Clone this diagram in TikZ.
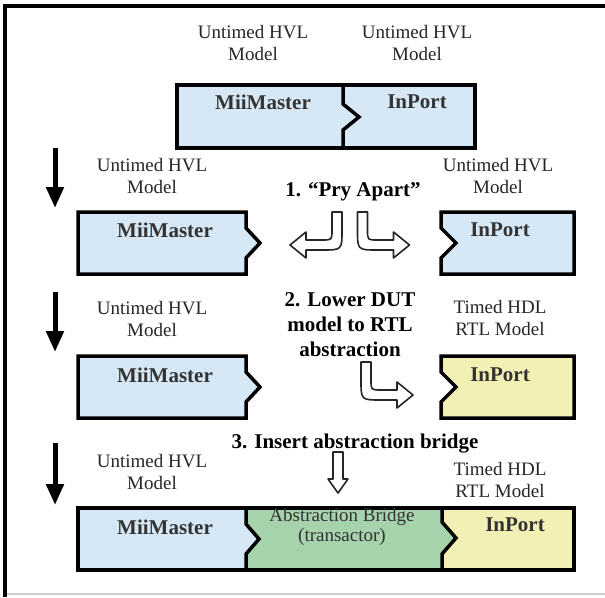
\documentclass[tikz,border=0pt]{standalone}
\usepackage{fontspec}
\setmainfont{Liberation Serif}
\usetikzlibrary{arrows.meta,positioning}
\definecolor{hvlblue}{RGB}{214,232,245}
\definecolor{hdlyellow}{RGB}{243,240,182}
\definecolor{bridgegreen}{RGB}{166,210,172}
\definecolor{framegray}{RGB}{205,205,205}
\tikzset{%
  kind/.style={align=center, font=\fontsize{19}{22}\selectfont, text=black!85},% model kind above a block
  steptext/.style={align=center, font=\bfseries\fontsize{21}{25}\selectfont},% step caption
  boxtext/.style={align=center, font=\bfseries\fontsize{21}{20}\selectfont, text=black!80},% block name
  blockline/.style={line width=3.5pt, line join=miter},% block outline
  stepdown/.style={line width=5pt, -{Triangle[width=17pt,length=21pt]}},% left step arrows
  hollow/.style={draw=black!85, fill=white, line width=1.6pt, line join=round}% outlined arrows
}
% left block with a tab on its right side, #1 = top
\newcommand*{\leftblock}[2]{
  \draw[blockline, fill=#2] (78,#1) -- (246,#1) -- (246,#1+16) -- (260,#1+31)
    -- (246,#1+46) -- (246,#1+62) -- (78,#1+62) -- cycle;}
% right block with a slot on its left side, #1 = top
\newcommand*{\rightblock}[2]{
  \draw[blockline, fill=#2] (441,#1) -- (574,#1) -- (574,#1+62) -- (441,#1+62)
    -- (441,#1+46) -- (456,#1+31) -- (441,#1+16) -- cycle;}
% bent outlined arrow, #3 = 1 to the right, -1 to the left
\newcommand*{\bentarrow}[3]{
  \draw[hollow, shift={(#1,#2)}, xscale=#3] (-5,0) -- (-5,18) .. controls (-5,38) .. (15,38)
    -- (31,38) -- (31,46) -- (47,33) -- (31,20) -- (31,28) -- (15,28)
    .. controls (5,28) .. (5,18) -- (5,0) -- cycle;}

\begin{document}
\begin{tikzpicture}[x=1pt, y=-1pt]
\useasboundingbox (0,0) rectangle (605,597);
\fill[white] (0,0) rectangle (605,597);
\draw[framegray, line width=1.5pt] (4,594) -- (605,594);
\draw[line width=4pt] (605,6) -- (4.5,6) -- (4.5,597);

% starting point
\fill[hvlblue] (177,85) rectangle (475,148);
\draw[blockline] (343,85) -- (343,104) -- (359,117) -- (343,130) -- (343,148);
\draw[blockline] (177,85) rectangle (475,148);
\node[kind] (topkindl) at (253,43) {Untimed HVL\\Model};
\node[kind] (topkindr) at (417,43) {Untimed HVL\\Model};
\node[boxtext] (topmii) at (263,102) {MiiMaster};
\node[boxtext] (topin) at (417,102) {InPort};

% step 1
\coordinate (down1a) at (55,148);
\coordinate (down1b) at (55,208);
\draw[stepdown] (down1a) -- (down1b);
\node[kind] (kind1l) at (152,176) {Untimed HVL\\Model};
\node[kind] (kind1r) at (498,176) {Untimed HVL\\Model};
\node[steptext] (pry) at (353,192) {1. “Pry Apart”};
\leftblock{212}{hvlblue}
\rightblock{212}{hvlblue}
\node[boxtext] (mii1) at (165,230) {MiiMaster};
\node[boxtext] (in1) at (500,230) {InPort};
\bentarrow{337}{212}{-1}
\bentarrow{362.5}{212}{1}

% step 2
\coordinate (down2a) at (55,292);
\coordinate (down2b) at (55,352);
\draw[stepdown] (down2a) -- (down2b);
\node[kind] (kind2l) at (152,319) {Untimed HVL\\Model};
\node[kind] (kind2r) at (500,318) {Timed HDL\\RTL Model};
\node[steptext] (lower) at (350,325) {2. Lower DUT\\model to RTL\\abstraction};
\leftblock{356}{hvlblue}
\rightblock{356}{hdlyellow}
\node[boxtext] (mii2) at (165,375) {MiiMaster};
\node[boxtext] (in2) at (500,375) {InPort};
\bentarrow{366}{362}{1}

% step 3
\coordinate (down3a) at (55,443);
\coordinate (down3b) at (55,505);
\draw[stepdown] (down3a) -- (down3b);
\node[steptext] (insert) at (355,444) {3. Insert abstraction bridge};
\node[kind] (kind3l) at (152,472) {Untimed HVL\\Model};
\node[kind] (kind3r) at (500,480) {Timed HDL\\RTL Model};
\draw[hollow] (333,452) -- (343,452) -- (343,479) -- (348,479) -- (338,493)
  -- (328,479) -- (333,479) -- cycle;
\fill[hvlblue] (78,508) -- (246,508) -- (246,524) -- (259,539) -- (246,554)
  -- (246,570) -- (78,570) -- cycle;
\fill[bridgegreen] (246,508) -- (442,508) -- (442,522) -- (456,538) -- (442,554)
  -- (442,570) -- (246,570) -- (246,554) -- (259,539) -- (246,524) -- cycle;
\fill[hdlyellow] (442,508) -- (574,508) -- (574,570) -- (442,570) -- (442,554)
  -- (456,538) -- (442,522) -- cycle;
\draw[blockline] (246,508) -- (246,524) -- (259,539) -- (246,554) -- (246,570);
\draw[blockline] (442,508) -- (442,522) -- (456,538) -- (442,554) -- (442,570);
\draw[blockline] (78,508) rectangle (574,570);
\node[boxtext] (mii3) at (165,527) {MiiMaster};
\node[align=center, font=\fontsize{19}{20}\selectfont, text=black!80] (bridge) at (342,527)
  {Abstraction Bridge\\(transactor)};
\node[boxtext] (in3) at (515,525) {InPort};
\end{tikzpicture}
\end{document}
